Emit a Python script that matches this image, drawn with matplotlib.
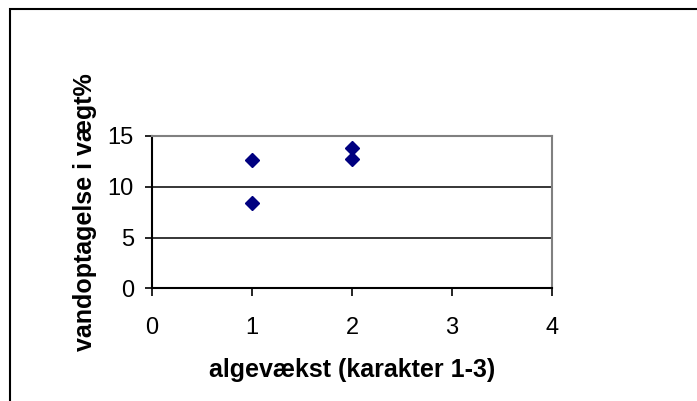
import matplotlib.pyplot as plt
from matplotlib.patches import Rectangle

# algae growth grade vs. water uptake (weight %)
algevaekst = [1, 1, 2, 2]
vandoptagelse = [12.6, 8.4, 13.8, 12.7]

x_ticks = [0, 1, 2, 3, 4]
y_ticks = [0, 5, 10, 15]

plt.rcParams["font.family"] = ["Liberation Sans", "DejaVu Sans"]

fig = plt.figure(figsize=(6.97, 4.01), dpi=100)
ax = fig.add_axes([152 / 697, 1 - 288.3 / 401, 400 / 697, 152.3 / 401])

# outer chart frame (runs off the right and bottom edge)
fig.patches.append(Rectangle((10 / 697, -0.1), 1.2, 1.1 - 9 / 401,
                             transform=fig.transFigure, fill=False,
                             edgecolor="black", linewidth=1.5))

for y in [5, 10]:
    ax.axhline(y, color="black", linewidth=1.1, zorder=1)

ax.plot(algevaekst, vandoptagelse, linestyle="none", marker="D",
        markersize=7.4, color="#000080", zorder=3)

ax.set_xlim(0, 4)
ax.set_ylim(0, 15)
ax.set_xticks(x_ticks)
ax.set_yticks(y_ticks)

ax.spines["left"].set_color("black")
ax.spines["bottom"].set_color("black")
ax.spines["left"].set_linewidth(1.5)
ax.spines["bottom"].set_linewidth(1.5)
ax.spines["top"].set_color("#808080")
ax.spines["right"].set_color("#808080")
ax.spines["top"].set_linewidth(1.5)
ax.spines["right"].set_linewidth(1.5)

ax.tick_params(axis="x", direction="out", length=6, width=1.2, labelsize=17, pad=15)
ax.tick_params(axis="y", direction="out", length=5, width=1.2, labelsize=17, pad=8)

ax.set_xlabel("algevækst (karakter 1-3)", fontsize=18, fontweight="bold", labelpad=13)
ax.set_ylabel("vandoptagelse i vægt%", fontsize=18, fontweight="bold", labelpad=8)

fig.savefig("out.png", dpi=100)
